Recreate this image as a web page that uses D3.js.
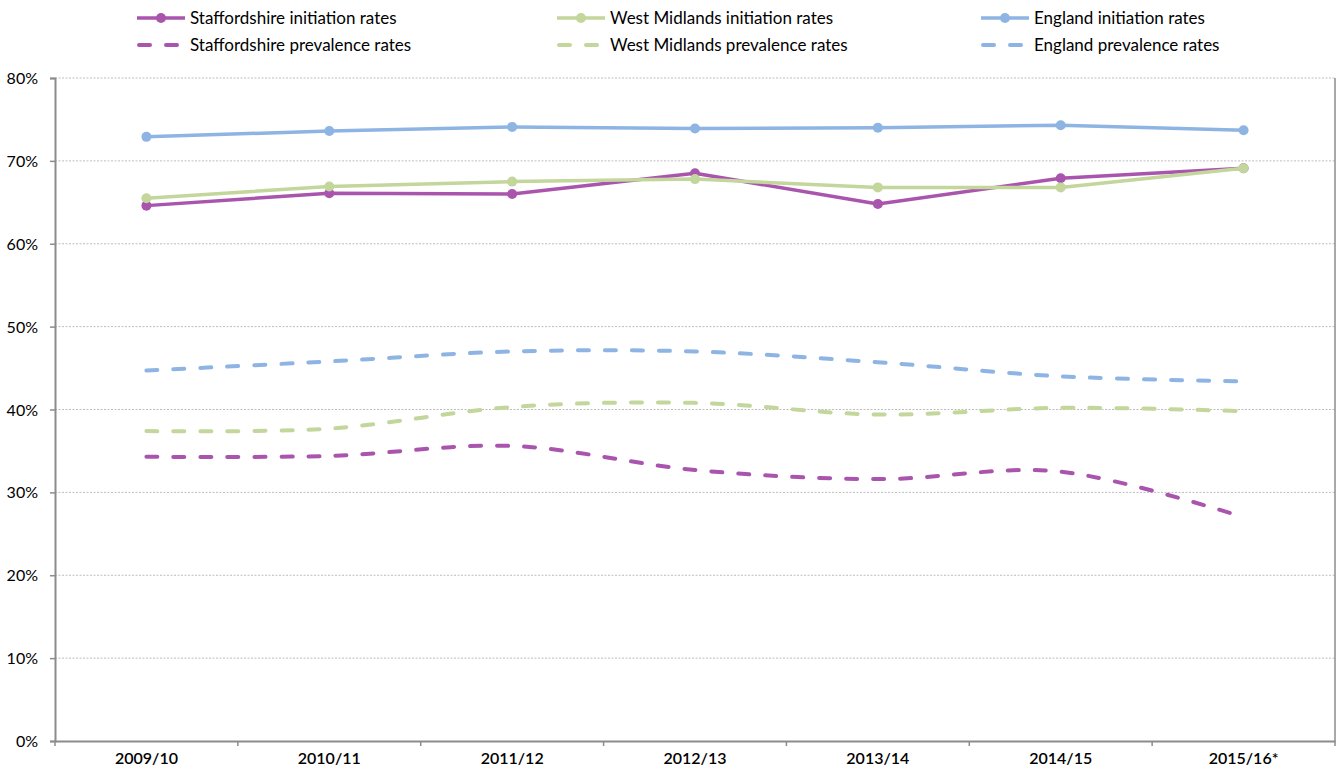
<!DOCTYPE html>
<html>
<head>
<meta charset="utf-8">
<script src="https://cdn.jsdelivr.net/npm/d3@7"></script>
<style>
  html, body { margin: 0; padding: 0; background: #fff; }
  svg text { font-family: "Lato", "Open Sans", sans-serif; fill: #000; }
</style>
</head>
<body>
<svg id="chart" width="1337" height="767"></svg>
<script>
// Financial years on the x axis
const years = ["2009/10", "2010/11", "2011/12", "2012/13", "2013/14", "2014/15", "2015/16*"];

// Breastfeeding initiation rates (%)
const staffsInitiation = [64.6, 66.1, 66.0, 68.5, 64.8, 67.9, 69.1];
const wmInitiation     = [65.5, 66.9, 67.5, 67.8, 66.8, 66.8, 69.1];
const engInitiation    = [72.9, 73.6, 74.1, 73.9, 74.0, 74.3, 73.7];

// Breastfeeding prevalence rates at 6-8 weeks (%)
const staffsPrevalence = [34.3, 34.4, 35.6, 32.7, 31.6, 32.5, 27.0];
const wmPrevalence     = [37.4, 37.7, 40.3, 40.8, 39.4, 40.2, 39.8];
const engPrevalence    = [44.7, 45.8, 47.0, 47.0, 45.7, 44.0, 43.4];

const yTicks = [0, 10, 20, 30, 40, 50, 60, 70, 80];

const series = [
  { name: "Staffordshire initiation rates", values: staffsInitiation, color: "#AA55AD", dashed: false },
  { name: "West Midlands initiation rates", values: wmInitiation,     color: "#C3D69B", dashed: false },
  { name: "England initiation rates",       values: engInitiation,    color: "#8EB4E3", dashed: false },
  { name: "Staffordshire prevalence rates", values: staffsPrevalence, color: "#AA55AD", dashed: true },
  { name: "West Midlands prevalence rates", values: wmPrevalence,     color: "#C3D69B", dashed: true },
  { name: "England prevalence rates",       values: engPrevalence,    color: "#8EB4E3", dashed: true }
];

const svg = d3.select("#chart");
const plot = { left: 55, right: 1335, top: 78, bottom: 741 };

const x = d3.scaleBand().domain(years).range([plot.left, plot.right]);
const y = d3.scaleLinear().domain([0, 80]).range([plot.bottom, plot.top]);
const cx = d => x(d) + x.bandwidth() / 2;

// Dotted horizontal gridlines
svg.append("g")
  .selectAll("line")
  .data(yTicks.filter(t => t > 0))
  .join("line")
  .attr("x1", plot.left).attr("x2", plot.right)
  .attr("y1", d => y(d)).attr("y2", d => y(d))
  .attr("stroke", "#BDBDBD").attr("stroke-width", 1)
  .attr("stroke-dasharray", "2,1.5");

// Right border of the plot area
svg.append("line")
  .attr("x1", plot.right).attr("x2", plot.right)
  .attr("y1", plot.top).attr("y2", plot.bottom)
  .attr("stroke", "#8C8C8C").attr("stroke-width", 1.5);

// Y axis
const yAxis = d3.axisLeft(y).tickValues(yTicks).tickFormat(d => d + "%").tickSize(5).tickPadding(12);
const gy = svg.append("g").attr("transform", `translate(${plot.left},0)`).call(yAxis);
gy.select(".domain").attr("stroke", "#8C8C8C").attr("stroke-width", 2);
gy.selectAll(".tick line").attr("stroke", "#8C8C8C").attr("stroke-width", 1.5);
gy.selectAll(".tick text").style("font-size", "16px").attr("dy", "0.35em");

// X axis: ticks on the band boundaries, labels centred in each band
const xAxis = d3.axisBottom(x).tickSize(0).tickPadding(11);
const gx = svg.append("g").attr("transform", `translate(0,${plot.bottom})`).call(xAxis);
gx.select(".domain").attr("stroke", "#8C8C8C").attr("stroke-width", 2);
gx.selectAll(".tick text").style("font-size", "16px").style("font-weight", "600").attr("dy", "0.75em");
const boundaries = years.map(d => x(d)).concat([plot.right]);
gx.selectAll(".bnd")
  .data(boundaries)
  .join("line")
  .attr("class", "bnd")
  .attr("x1", d => d).attr("x2", d => d)
  .attr("y1", 0).attr("y2", 5)
  .attr("stroke", "#8C8C8C").attr("stroke-width", 1.5);

// Lines
const straight = d3.line().x((v, i) => cx(years[i])).y(v => y(v));
const smooth = d3.line().x((v, i) => cx(years[i])).y(v => y(v)).curve(d3.curveCatmullRom.alpha(0));

const lines = svg.append("g");
series.forEach(s => {
  lines.append("path")
    .datum(s.values)
    .attr("d", s.dashed ? smooth : straight)
    .attr("fill", "none")
    .attr("stroke", s.color)
    .attr("stroke-width", s.dashed ? 4 : 3.5)
    .attr("stroke-linecap", s.dashed ? "round" : "butt")
    .attr("stroke-linejoin", "round")
    .attr("stroke-dasharray", s.dashed ? "11,16" : null);
  if (!s.dashed) {
    lines.append("g")
      .selectAll("circle")
      .data(s.values)
      .join("circle")
      .attr("cx", (v, i) => cx(years[i]))
      .attr("cy", v => y(v))
      .attr("r", 5)
      .attr("fill", s.color);
  }
});

// Legend: three columns, solid lines on the first row, dashed on the second
const legendCols = [137, 557, 981];
const legendW = 48;
const legendRows = [18, 45];
const legend = svg.append("g");
series.forEach((s, i) => {
  const col = i % 3, row = Math.floor(i / 3);
  const x0 = legendCols[col], yy = legendRows[row];
  const g = legend.append("g");
  if (!s.dashed) {
    g.append("line").attr("x1", x0).attr("x2", x0 + legendW).attr("y1", yy).attr("y2", yy)
      .attr("stroke", s.color).attr("stroke-width", 3.5);
    g.append("circle").attr("cx", x0 + legendW / 2).attr("cy", yy).attr("r", 5).attr("fill", s.color);
  } else {
    g.append("line").attr("x1", x0 + 2).attr("x2", x0 + legendW).attr("y1", yy).attr("y2", yy)
      .attr("stroke", s.color).attr("stroke-width", 4).attr("stroke-linecap", "round")
      .attr("stroke-dasharray", "11,16");
  }
  g.append("text").attr("x", x0 + legendW + 5).attr("y", yy).attr("dy", "0.35em")
    .style("font-size", "17px").text(s.name);
});
</script>
</body>
</html>
